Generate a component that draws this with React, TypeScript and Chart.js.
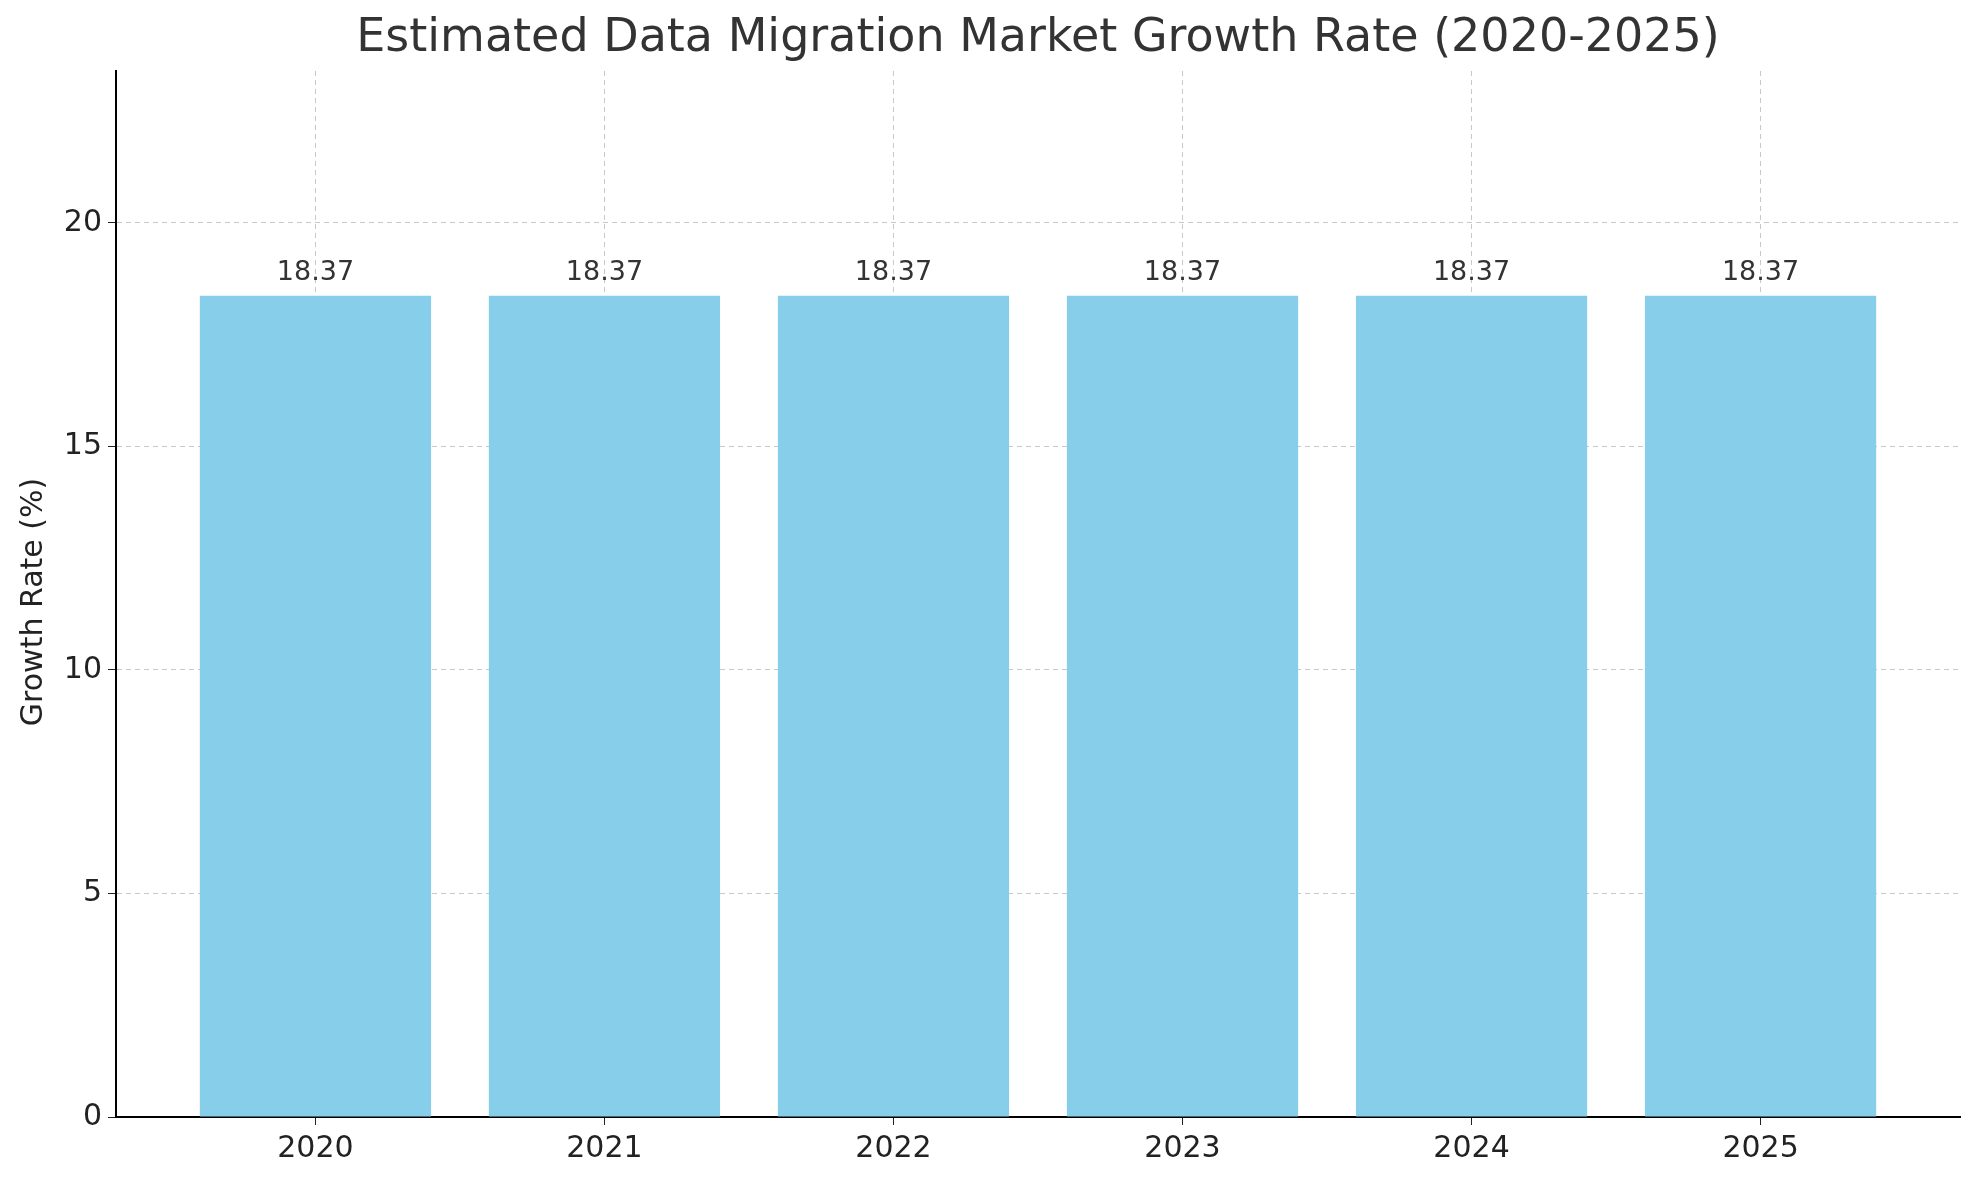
import React, { useEffect, useRef } from "react";
import { Chart, registerables } from "chart.js";
Chart.register(...registerables);

const years = ["2020", "2021", "2022", "2023", "2024", "2025"];
const growth = [18.37, 18.37, 18.37, 18.37, 18.37, 18.37];
const yTicks = [0, 5, 10, 15, 20];
const FONT = "'DejaVu Sans', sans-serif";

const overlay = {
  id: "overlay",
  afterDatasetsDraw(chart: any) {
    const ctx = chart.ctx;
    const meta = chart.getDatasetMeta(0);
    ctx.save();
    ctx.fillStyle = "#333";
    ctx.font = `27px ${FONT}`;
    ctx.textAlign = "center";
    ctx.textBaseline = "bottom";
    meta.data.forEach((el: any, i: number) => {
      ctx.fillText(growth[i].toFixed(2), el.x, el.y - 9);
    });
    ctx.font = `46px ${FONT}`;
    ctx.textBaseline = "middle";
    const ca = chart.chartArea;
    ctx.fillText("Estimated Data Migration Market Growth Rate (2020-2025)", (ca.left + ca.right) / 2, 39);
    ctx.translate(34, (ca.top + ca.bottom) / 2 + 8);
    ctx.rotate(-Math.PI / 2);
    ctx.font = `30px ${FONT}`;
    ctx.fillStyle = "#222";
    ctx.fillText("Growth Rate (%)", 0, 0);
    ctx.restore();
  },
};

export default function App() {
  const ref = useRef<HTMLCanvasElement>(null);
  useEffect(() => {
    document.body.style.margin = "0";
    const chart = new Chart(ref.current!, {
      type: "bar",
      data: {
        datasets: [{
          data: growth.map((v, i) => ({ x: i, y: v })),
          backgroundColor: "#87CEEB",
          barPercentage: 0.8,
          categoryPercentage: 1,
        }],
      },
      options: {
        animation: false,
        responsive: false,
        layout: { padding: { top: 71, right: 19, left: 0, bottom: 0 } },
        plugins: { legend: { display: false }, tooltip: { enabled: false } },
        scales: {
          x: {
            type: "linear",
            offset: false,
            min: -0.69,
            max: 5.69,
            afterBuildTicks: (s: any) => { s.ticks = years.map((_, i) => ({ value: i })); },
            afterFit: (s: any) => { s.height = 63; },
            ticks: { callback: (v: any) => years[v] ?? "", color: "#222", font: { size: 30, family: FONT }, padding: 6 },
            grid: { offset: false, color: "#c8c8c8", lineWidth: 1, tickLength: 8, tickColor: "#222" },
            border: { color: "#000", width: 2, dash: [5, 4] },
          },
          y: {
            min: 0,
            max: 23.4,
            afterBuildTicks: (s: any) => { s.ticks = yTicks.map((v) => ({ value: v })); },
            afterFit: (s: any) => { s.width = 116; },
            ticks: { color: "#222", font: { size: 30, family: FONT }, padding: 6 },
            grid: { color: "#c8c8c8", lineWidth: 1, tickLength: 8, tickColor: "#222" },
            border: { color: "#000", width: 2, dash: [5, 4] },
          },
        },
      },
      plugins: [overlay],
    } as any);
    return () => chart.destroy();
  }, []);
  return <canvas ref={ref} width={1979} height={1180} style={{ display: "block" }} />;
}
